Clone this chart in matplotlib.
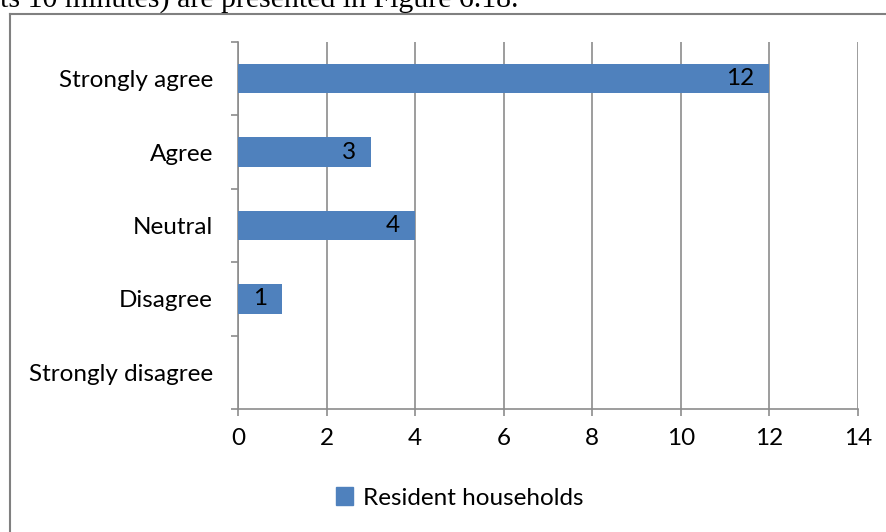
import matplotlib.pyplot as plt
from matplotlib.lines import Line2D
from matplotlib.patches import Patch

categories = ["Strongly disagree", "Disagree", "Neutral", "Agree", "Strongly agree"]
households = [0, 1, 4, 3, 12]
x_ticks = [0, 2, 4, 6, 8, 10, 12, 14]

BAR = "#4F81BD"
GRID = "#8C8C8C"
FONT = ["Lato", "DejaVu Sans"]
FS = 17.5

fig = plt.figure(figsize=(8.86, 5.32), dpi=100)
ax = fig.add_axes([238 / 886, 1 - 409 / 532, 620 / 886, 367 / 532])

ys = list(range(len(categories)))
ax.barh(ys, households, height=0.4, color=BAR, zorder=3)

for y, v in zip(ys, households):
    if v > 0:
        ax.annotate(str(v), xy=(v, y), xytext=(-11, 0), textcoords="offset points",
                    ha="right", va="center", fontsize=FS, family=FONT, zorder=4)

ax.set_xlim(0, 14)
ax.set_ylim(-0.5, len(categories) - 0.5)
ax.set_xticks(x_ticks)
ax.set_xticklabels([str(t) for t in x_ticks], fontsize=FS, family=FONT)
ax.set_yticks(ys)
ax.set_yticklabels(categories, fontsize=FS, family=FONT)
ax.set_yticks([y - 0.5 for y in range(len(categories) + 1)], minor=True)

ax.tick_params(axis="y", which="major", length=0, pad=18)
ax.tick_params(axis="y", which="minor", length=5, color=GRID, width=1.2)
ax.tick_params(axis="x", length=5, color=GRID, width=1.2, pad=9)

ax.grid(True, axis="x", color=GRID, linewidth=1.2, zorder=0)
for side in ["top", "right"]:
    ax.spines[side].set_visible(False)
for side in ["left", "bottom"]:
    ax.spines[side].set_color(GRID)
    ax.spines[side].set_linewidth(1.2)

fig.legend(handles=[Patch(color=BAR)], labels=["Resident households"],
           loc="center", bbox_to_anchor=(460 / 886, 1 - 498 / 532),
           frameon=False, prop={"family": FONT, "size": FS},
           handlelength=0.7, handleheight=0.7, handletextpad=0.4)

# outer chart border (partly cut off in the reference)
fig.add_artist(Line2D([10 / 886, 10 / 886], [0, 1 - 14 / 532], color="#808080", linewidth=1.5))
fig.add_artist(Line2D([10 / 886, 1], [1 - 14 / 532, 1 - 14 / 532], color="#808080", linewidth=1.5))

# clipped line of surrounding document text
fig.text(0.0, 1 - 7 / 532, "ts 10 minutes) are presented in Figure 6.18.", ha="left", va="baseline",
         fontsize=21.5, family="Liberation Serif")

fig.savefig("out.png", dpi=100, facecolor="white")
